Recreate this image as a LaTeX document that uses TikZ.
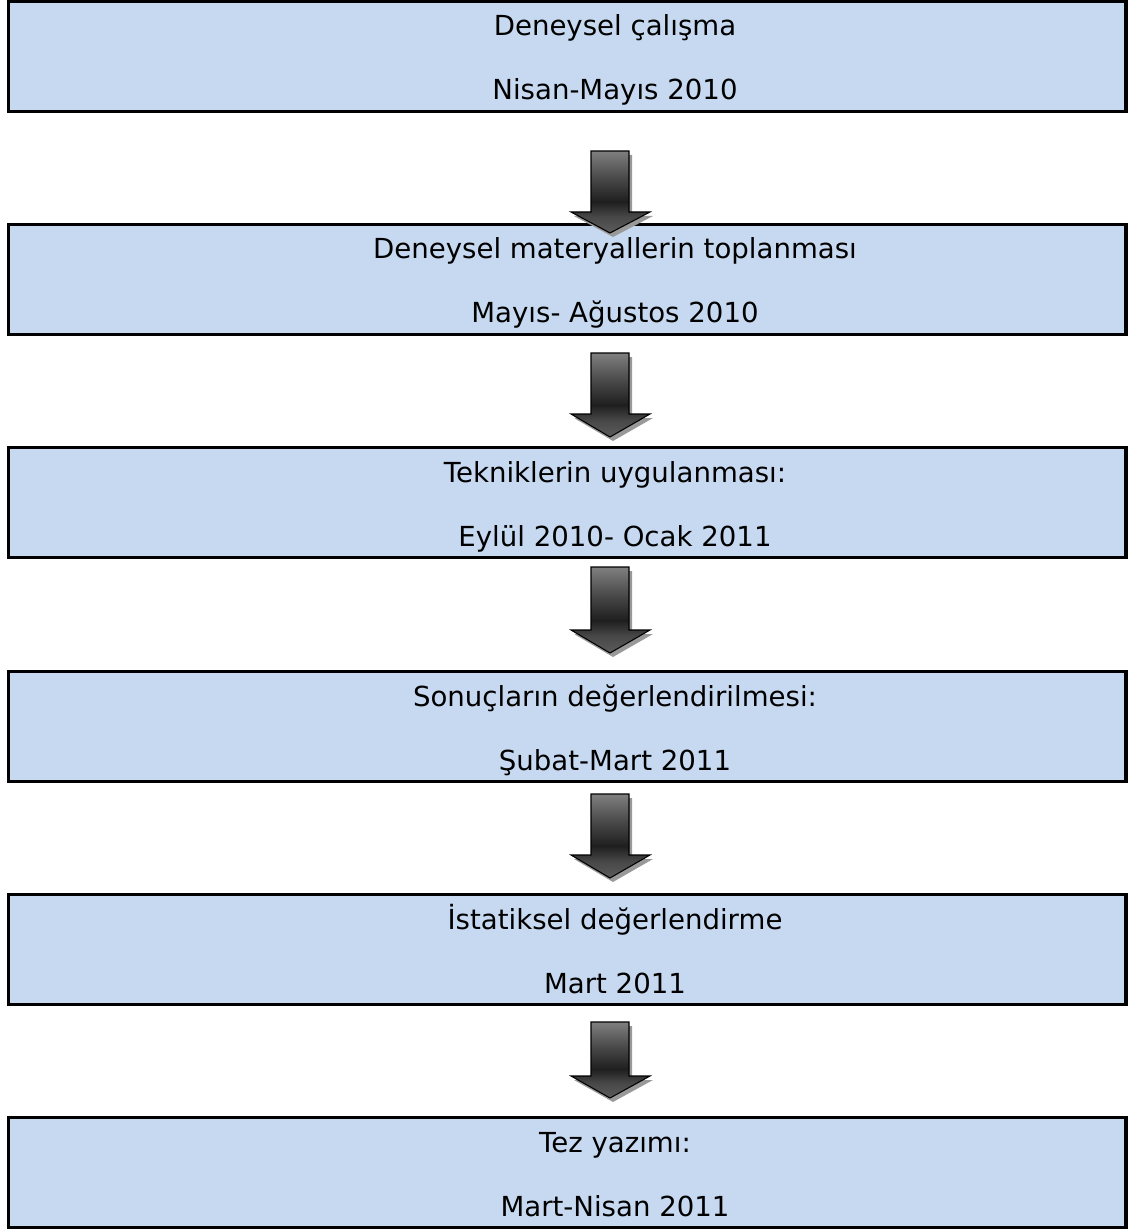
\documentclass[tikz,border=0pt]{standalone}
\usepackage{fontspec}
\setmainfont{DejaVu Sans}
\pgfdeclareverticalshading{arrowsh}{100bp}{color(0bp)=(black!64); color(25bp)=(black!64); color(35bp)=(black!72); color(44bp)=(black!88); color(58bp)=(black!72); color(75bp)=(black!50); color(100bp)=(black!50)}
\begin{document}
\begin{tikzpicture}[x=0.75pt,y=-0.75pt,
  box/.style={draw=black, line width=2.4pt, fill=boxblue, minimum width=838pt, minimum height=82.5pt, inner sep=0pt},
  txt/.style={anchor=base, inner sep=0pt, font=\fontsize{20.7}{24}\selectfont},
  arrowshade/.style={draw=black, line width=0.8pt, shading=arrowsh},
  arrowshadow/.style={fill=black!40, draw=none}]
\definecolor{boxblue}{HTML}{C6D9F0}
\useasboundingbox (0,0) rectangle (1139,1230);
\newcommand\myarrow[4]{%
  \fill[arrowshadow] (#1-19+3,#2+4) -- (#1+19+3,#2+4) -- (#1+19+3,#3+4) -- (#1+40+3,#3+4) -- (#1+3,#4+4) -- (#1-39+3,#3+4) -- (#1-19+3,#3+4) -- cycle;
  \draw[arrowshade] (#1-19,#2) -- (#1+19,#2) -- (#1+19,#3) -- (#1+40,#3) -- (#1,#4) -- (#1-39,#3) -- (#1-19,#3) -- cycle;}
% boxes
\foreach \i/\t in {1/1,2/224,3/447,4/671,5/894,6/1117}{
  \node[box] (b\i) at (567.25,\t+55.3) {};
}
% texts
\node[txt] (t1a) at (615,36) {Deneysel çalışma};
\node[txt] (t1b) at (615,100) {Nisan-Mayıs 2010};
\node[txt] (t2a) at (615,259) {Deneysel materyallerin toplanması};
\node[txt] (t2b) at (615,323) {Mayıs- Ağustos 2010};
\node[txt] (t3a) at (615,482) {Tekniklerin uygulanması:};
\node[txt] (t3b) at (615,546) {Eylül 2010- Ocak 2011};
\node[txt] (t4a) at (615,706) {Sonuçların değerlendirilmesi:};
\node[txt] (t4b) at (615,770) {Şubat-Mart 2011};
\node[txt] (t5a) at (615,929) {İstatiksel değerlendirme};
\node[txt] (t5b) at (615,993) {Mart 2011};
\node[txt] (t6a) at (615,1152) {Tez yazımı:};
\node[txt] (t6b) at (615,1216) {Mart-Nisan 2011};
% arrows
\myarrow{610}{151}{212}{233}
\myarrow{610}{353}{414}{437}
\myarrow{610}{567}{630}{653}
\myarrow{610}{794}{855}{878}
\myarrow{610}{1022}{1076}{1098}
\end{tikzpicture}
\end{document}
